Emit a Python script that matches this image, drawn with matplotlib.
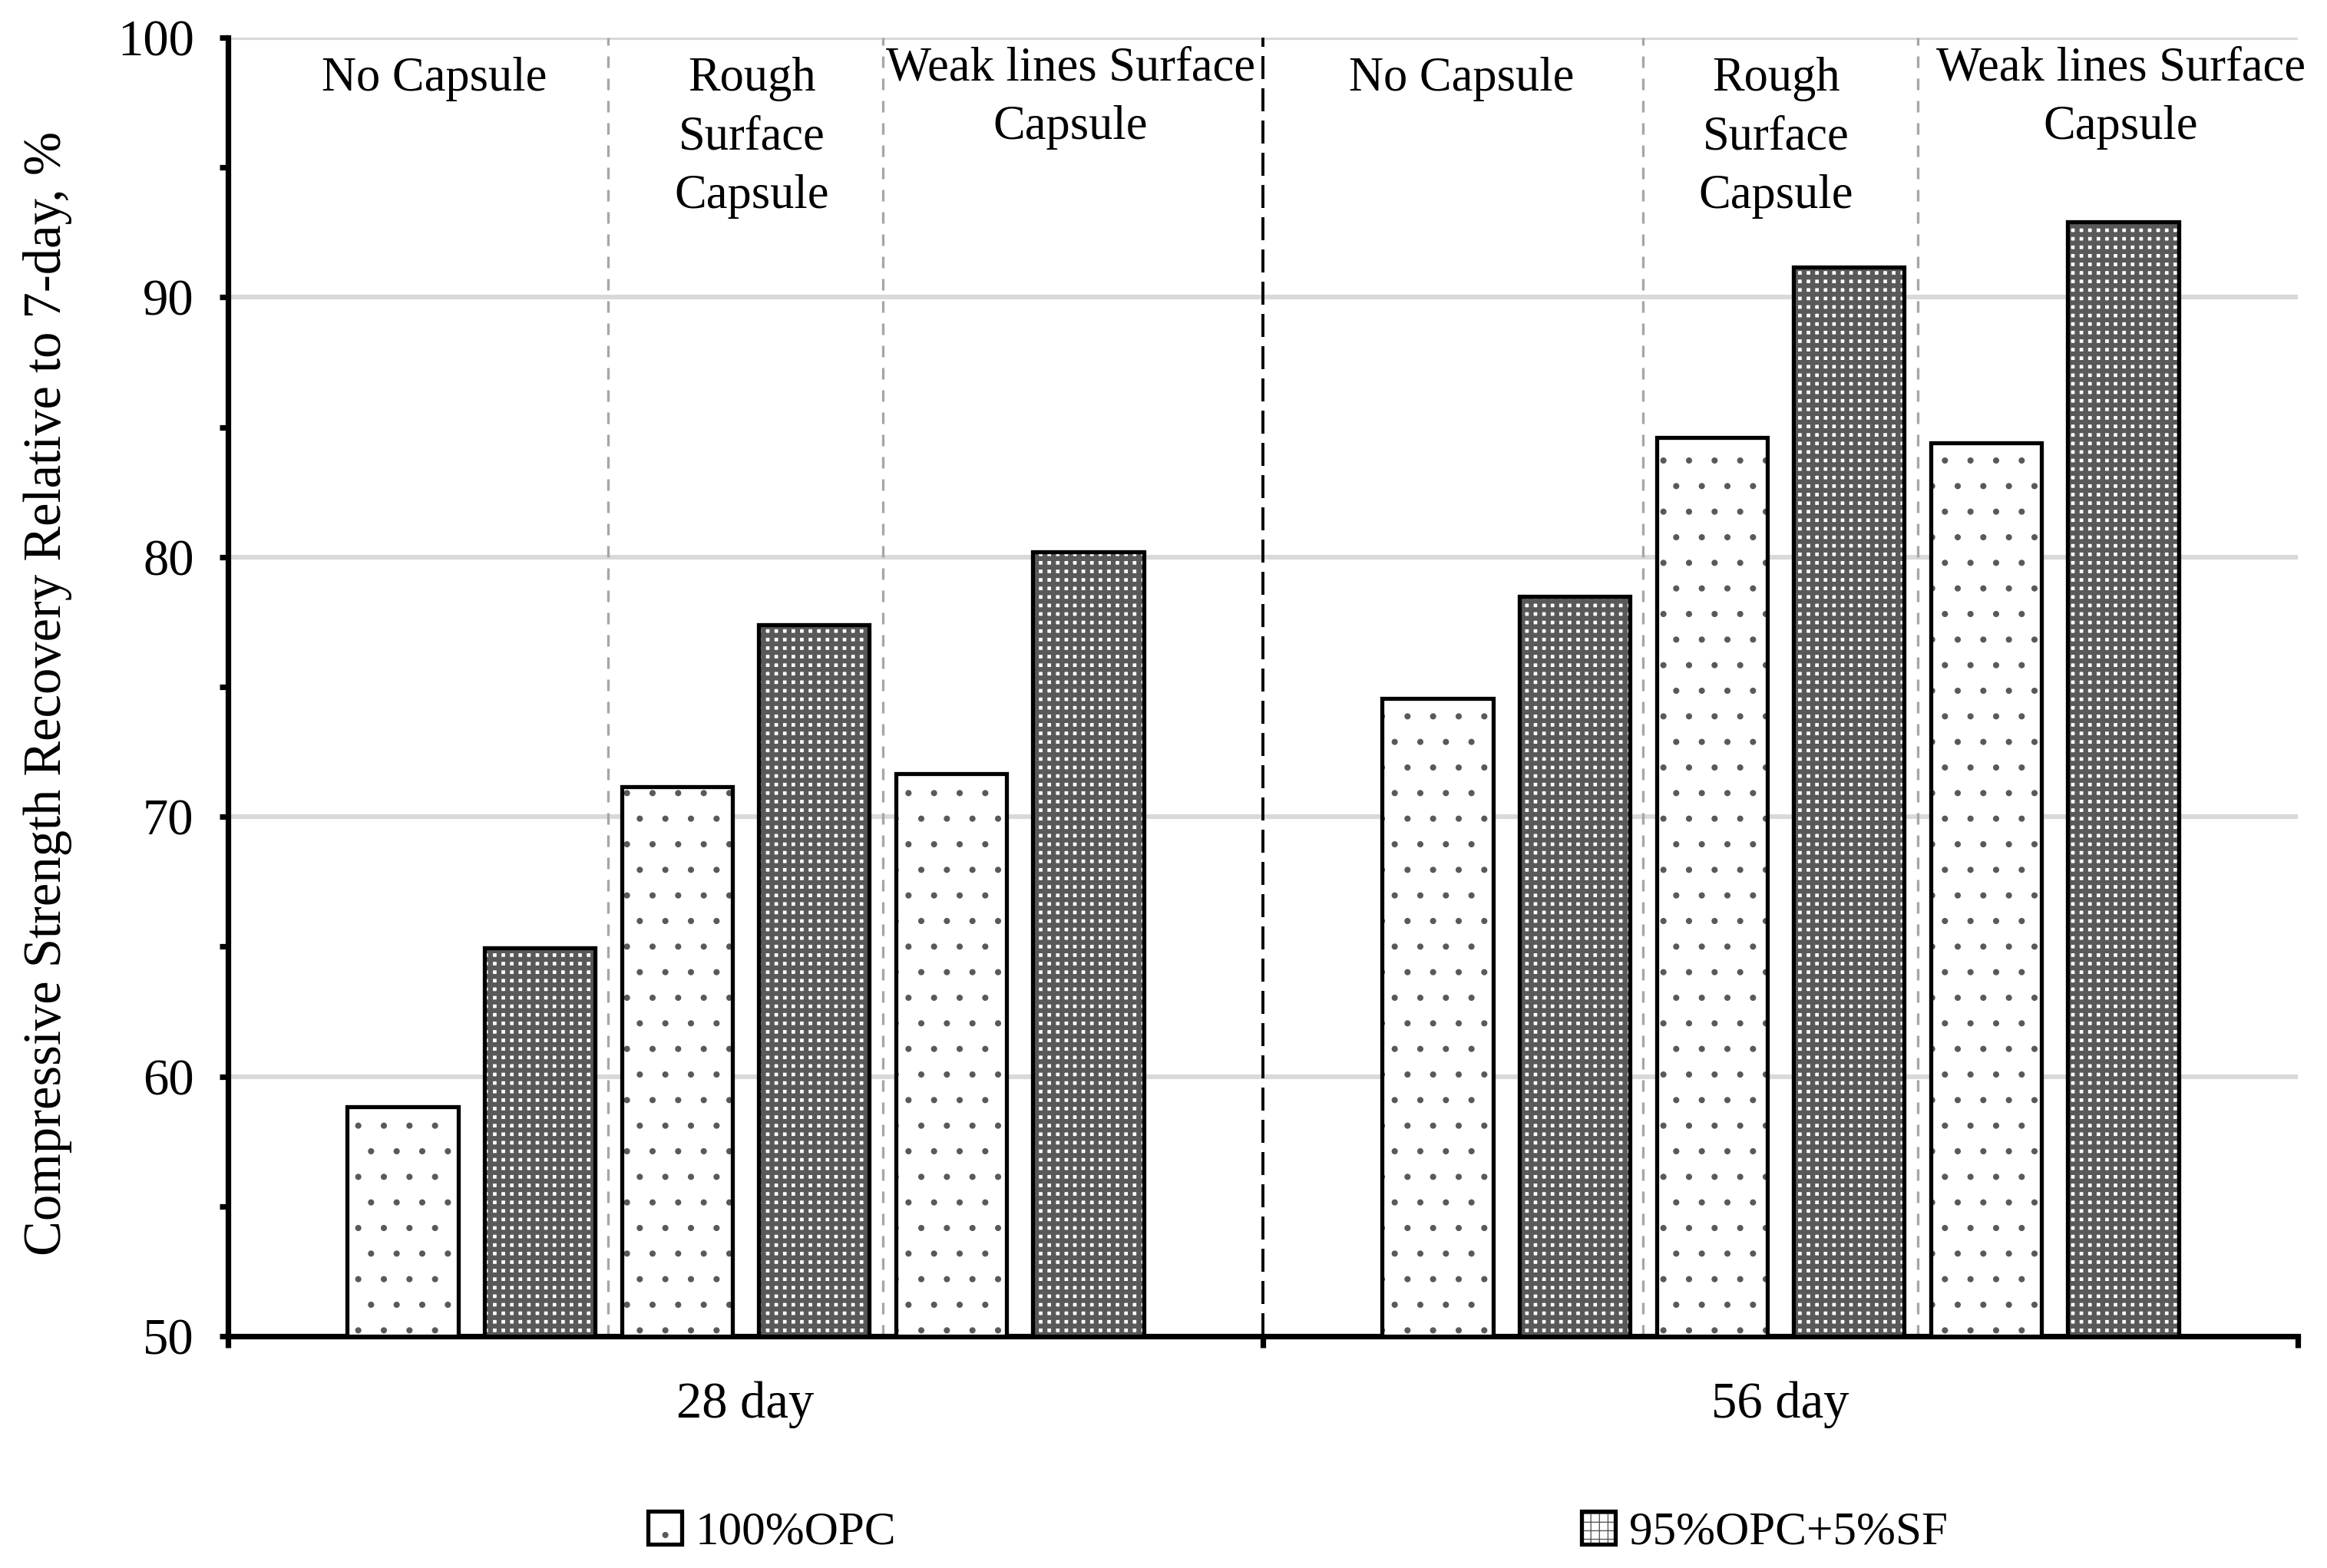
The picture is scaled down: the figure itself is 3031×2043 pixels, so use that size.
import matplotlib
matplotlib.use("Agg")
import matplotlib.pyplot as plt
import numpy as np

plt.rcParams['font.family'] = ['Liberation Serif', 'DejaVu Serif']
plt.rcParams['hatch.linewidth'] = 0.5

# dados
grupos = ['28 day', '56 day']
capsulas = ['No Capsule', 'Rough\nSurface\nCapsule', 'Weak lines Surface\nCapsule']
series = ['100%OPC', '95%OPC+5%SF']
opc_28 = [58.85, 71.15, 71.65]
sf_28 = [64.95, 77.4, 80.2]
opc_56 = [74.55, 84.6, 84.4]
sf_56 = [78.5, 91.15, 92.9]

# posicao dos textos das capsulas (x em unidades de dados)
texto_x = [0.199, 0.506, 0.814, 1.192, 1.496, 1.829]

fig = plt.figure(figsize=(15.155, 10.215), dpi=200)
ax = fig.add_axes([297 / 3031, 1 - 1741 / 2043, 2696 / 3031, 1692 / 2043])

passo = 0.1325
largura = 0.107
offsets = (np.arange(6) - 2.5) * passo

cinza = '#595959'
x_opc, x_sf, y_opc, y_sf = [], [], [], []
for g, (opc, sf) in enumerate([(opc_28, sf_28), (opc_56, sf_56)]):
    for j in range(3):
        x_opc.append(g + 0.5 + offsets[2 * j])
        x_sf.append(g + 0.5 + offsets[2 * j + 1])
        y_opc.append(opc[j])
        y_sf.append(sf[j])

# barras claras (pontos esparsos)
b1 = ax.bar(x_opc, np.array(y_opc) - 50, width=largura, bottom=50, color='white',
            edgecolor=cinza, hatch='.', linewidth=0, zorder=3)
c1 = ax.bar(x_opc, np.array(y_opc) - 50, width=largura, bottom=50, fill=False,
            edgecolor='black', linewidth=1.9, zorder=4)
# barras escuras (grade cinza)
b2 = ax.bar(x_sf, np.array(y_sf) - 50, width=largura, bottom=50, color='white',
            edgecolor=cinza, hatch='+++', linewidth=0, zorder=3)
for p in b2:
    if hasattr(p, 'set_hatch_linewidth'):
        p.set_hatch_linewidth(2.3)
c2 = ax.bar(x_sf, np.array(y_sf) - 50, width=largura, bottom=50, fill=False,
            edgecolor='black', linewidth=1.9, zorder=4)

# divisores
ax.axvline(1.0, color='black', lw=1.4, linestyle=(0, (7.7, 3.1)), zorder=2)
for g in range(2):
    for d in (-passo, passo):
        ax.axvline(g + 0.5 + d, color='#a6a6a6', lw=1.2, linestyle=(0, (4.5, 4.2)), zorder=2)

# textos das capsulas
for i, tx in enumerate(texto_x):
    nome = capsulas[i % 3]
    ytop = 99.65 if 'Weak' in nome else 99.25
    ax.text(tx, ytop, nome, ha='center', va='top', fontsize=22.5, linespacing=1.42, zorder=5)

ax.set_xlim(0, 2)
ax.set_ylim(50, 100)
ax.set_yticks(np.arange(50, 101, 10))
ax.set_yticks(np.arange(55, 100, 10), minor=True)
ax.yaxis.grid(True, which='major', color='#d9d9d9', lw=2.2, zorder=0)
ax.set_axisbelow(True)

ax.set_xticks([0, 1, 2])
ax.set_xticklabels(['', '', ''])
ax.set_xticks([0.5, 1.5], minor=True)
ax.set_xticklabels(grupos, minor=True, fontsize=24)
ax.tick_params(axis='x', which='major', direction='out', length=5.4, width=2.6)
ax.tick_params(axis='x', which='minor', length=0, pad=21)
ax.tick_params(axis='y', which='both', direction='out', length=4, width=2.6, labelsize=24, pad=12)

for s in ['top', 'right']:
    ax.spines[s].set_visible(False)
for s in ['left', 'bottom']:
    ax.spines[s].set_linewidth(2.6)

fig.text(62 / 3031, 1 - 903 / 2043, 'Compressive Strength Recovery Relative to 7-day, %',
         rotation=90, ha='center', va='center', fontsize=24.7)

fig.legend([(b1[0], c1[0]), (b2[0], c2[0])], series, loc='center',
           bbox_to_anchor=(0.5577, 0.0225), ncol=2, frameon=False, fontsize=22,
           columnspacing=14.6, handletextpad=0.3, handlelength=0.72, handleheight=0.69)

fig.savefig('out.png', dpi=200)
